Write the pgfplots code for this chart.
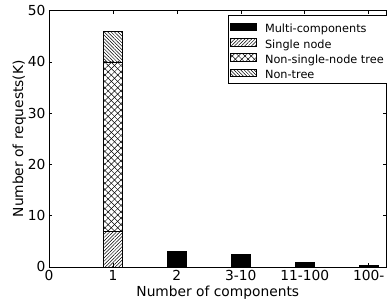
\documentclass[border=0pt]{standalone}
\usepackage{fontspec}
\setmainfont{DejaVu Sans}
\usepackage{pgfplots}
\pgfplotsset{compat=1.18}
\usetikzlibrary{patterns.meta}
\begin{document}
\begin{tikzpicture}
\begin{axis}[
  scale only axis, width=337.7bp, height=256.3bp,
  xmin=0, xmax=5.28, ymin=0, ymax=50,
  ybar stacked, bar width=0.3,
  xtick={0,1,2,3,4,5}, xticklabels={0,1,2,3-10,11-100,100-},
  ytick={0,10,20,30,40,50},
  tick align=inside, major tick length=3.5bp,
  tick style={black, line width=0.6bp},
  axis line style={line width=0.8bp},
  font=\fontsize{13.8bp}{16bp}\selectfont,
  /pgf/number format/assume math mode=true,
  xlabel={Number of components}, ylabel={Number of requests(K)},
  ylabel style={yshift=-5bp},
  xlabel style={yshift=2bp},
  legend style={at={(1,1)}, anchor=north east, xshift=1bp, yshift=-4.6bp,
    font=\fontsize{11.3bp}{13bp}\selectfont,
    draw=black, line width=0.8bp, inner xsep=2bp, inner ysep=3.5bp, row sep=0.4bp, column sep=7bp,
    nodes={inner xsep=1.5bp, inner ysep=1.5bp, text height=12bp, text depth=0bp}},
  legend cell align=left,
  legend image code/.code={\draw[#1,line width=0.6bp] (0bp,-3.85bp) rectangle (26bp,3.85bp);},
  every axis plot/.append style={draw=black, line width=0.8bp},
]
\addplot[fill=black] coordinates {(0,0) (1,0) (2,3.1) (3,2.35) (4,0.8) (5,0.2)};
\addlegendentry{Multi-components}
\addplot[pattern={Lines[angle=45,distance=2.4bp,line width=0.5bp]}] coordinates {(0,0) (1,7) (2,0) (3,0) (4,0) (5,0)};
\addlegendentry{Single node}
\addplot[pattern={Lines[angle=45,distance=4.5bp,line width=0.5bp]}, postaction={pattern={Lines[angle=-45,distance=4.5bp,line width=0.5bp]}}] coordinates {(0,0) (1,33) (2,0) (3,0) (4,0) (5,0)};
\addlegendentry{Non-single-node tree}
\addplot[pattern={Lines[angle=-45,distance=2.4bp,line width=0.5bp]}] coordinates {(0,0) (1,6) (2,0) (3,0) (4,0) (5,0)};
\addlegendentry{Non-tree}
\coordinate (bl) at (rel axis cs:0,0);
\coordinate (tr) at (rel axis cs:1,1);
\end{axis}
\pgfresetboundingbox
\useasboundingbox ([xshift=-49bp,yshift=-34bp]bl) rectangle ([xshift=0.4bp,yshift=10.7bp]tr);
\end{tikzpicture}
\end{document}
